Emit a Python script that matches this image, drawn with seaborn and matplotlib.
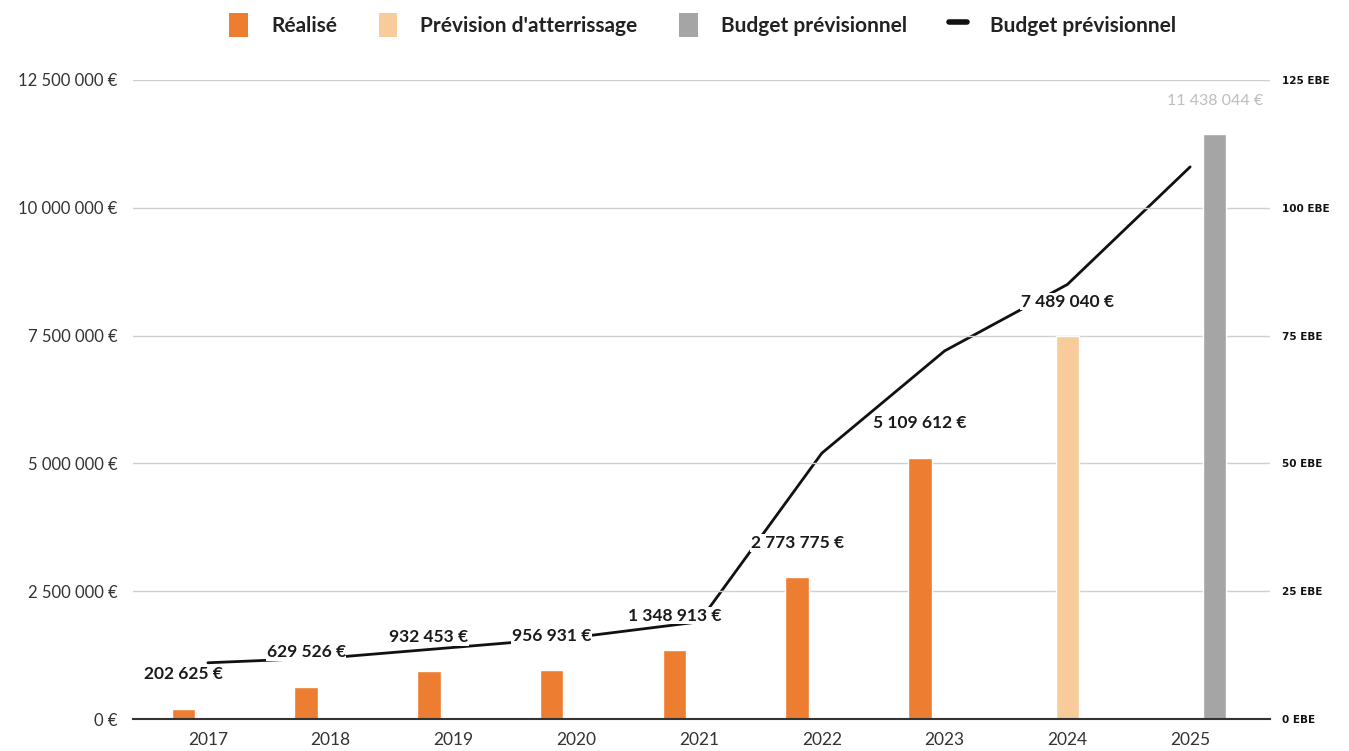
import numpy as np
import pandas as pd
import matplotlib
matplotlib.use("Agg")
import matplotlib.pyplot as plt
import seaborn as sns
from matplotlib.patches import Patch
from matplotlib.lines import Line2D

# --- data ---
years = ["2017", "2018", "2019", "2020", "2021", "2022", "2023", "2024", "2025"]
realise_years = ["2017", "2018", "2019", "2020", "2021", "2022", "2023"]
realise = [202625, 629526, 932453, 956931, 1348913, 2773775, 5109612]
prevision_years = ["2024"]
prevision = [7489040]
budget_years = ["2025"]
budget = [11438044]
ebe = [11, 12, 14, 16, 19, 52, 72, 85, 108]

series_order = ["Réalisé", "Prévision d'atterrissage", "Budget prévisionnel"]
colors = {
    "Réalisé": "#ED7D31",
    "Prévision d'atterrissage": "#F8CB9A",
    "Budget prévisionnel": "#A5A5A5",
}

df = pd.concat([
    pd.DataFrame({"year": realise_years, "value": realise, "series": "Réalisé"}),
    pd.DataFrame({"year": prevision_years, "value": prevision, "series": "Prévision d'atterrissage"}),
    pd.DataFrame({"year": budget_years, "value": budget, "series": "Budget prévisionnel"}),
])

sns.set_theme(style="white")
plt.rcParams["font.family"] = ["Lato", "DejaVu Sans"]


def euro(v):
    return f"{v:,.0f} €".replace(",", " ")


fig = plt.figure(figsize=(13.49, 7.51), dpi=100)
ax = fig.add_axes([0.0986, 0.0426, 0.8428, 0.8509])

sns.barplot(data=df, x="year", y="value", hue="series", order=years,
            hue_order=series_order, palette=colors, width=0.6, gap=0.04,
            saturation=1, dodge=True, legend=False, ax=ax)

# line on the secondary axis
ax2 = ax.twinx()
sns.lineplot(x=np.arange(len(years)), y=ebe, color="#111111", linewidth=2.0,
             ax=ax2, legend=False)
ax2.lines[0].set_solid_joinstyle("round")
ax2.lines[0].set_solid_capstyle("round")

# draw bars + labels above the line
ax.set_zorder(ax2.get_zorder() + 1)
ax.patch.set_visible(False)

for cont, name in zip(ax.containers, series_order):
    if name == "Budget prévisionnel":
        ax.bar_label(cont, fmt=euro, padding=19, fontsize=11.5,
                     color="#bdbdbd")
    else:
        ax.bar_label(cont, fmt=euro, padding=19, fontsize=12.5,
                     fontweight="bold", color="#1a1a1a",
                     bbox=dict(facecolor="white", edgecolor="none", pad=0.5))

# left axis
ax.set_ylim(0, 12_500_000)
ax.set_xlim(-0.61, len(years) - 1 + 0.65)
yt = np.arange(0, 12_500_001, 2_500_000)
ax.set_yticks(yt)
ax.set_yticklabels([euro(t) for t in yt], fontsize=12, color="#333333")
ax.yaxis.grid(True, color="#d0d0d0", linewidth=1)
ax.set_axisbelow(True)
ax.tick_params(axis="y", length=0, pad=11)
ax.tick_params(axis="x", length=0, pad=9, labelsize=12.5, labelcolor="#333333")
ax.set_xlabel("")
ax.set_ylabel("")
for s in ["top", "right", "left"]:
    ax.spines[s].set_visible(False)
ax.spines["bottom"].set_color("#333333")
ax.spines["bottom"].set_linewidth(1.5)

# right axis
ax2.set_ylim(0, 125)
rt = np.arange(0, 126, 25)
ax2.set_yticks(rt)
ax2.set_yticklabels([f"{t} EBE" for t in rt], family="DejaVu Sans",
                    fontsize=7.5, fontweight="bold", color="#111111")
ax2.tick_params(axis="y", length=0, pad=9)
ax2.set_ylabel("")
for s in ax2.spines.values():
    s.set_visible(False)

# legend
handles = [Patch(facecolor=colors[n], edgecolor="none") for n in series_order]
handles.append(Line2D([0], [0], color="#111111", linewidth=4))
labels = series_order + ["Budget prévisionnel"]
fig.legend(handles, labels, loc="upper center", bbox_to_anchor=(0.521, 1.008),
           ncol=4, frameon=False, prop={"size": 15, "weight": "bold"},
           handlelength=0.9, handleheight=1.4, handletextpad=1.1,
           columnspacing=2.0, labelcolor="#222222")

fig.savefig("out.png", dpi=100)
